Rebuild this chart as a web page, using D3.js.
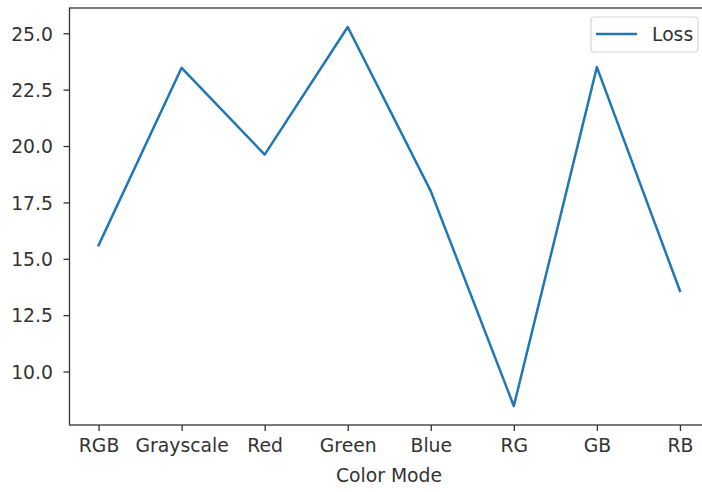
<!DOCTYPE html>
<html>
<head>
<meta charset="utf-8">
<script src="https://cdn.jsdelivr.net/npm/d3@7"></script>
<style>
  body { margin: 0; background: #fff; }
  svg { font-family: "DejaVu Sans", sans-serif; }
</style>
</head>
<body>
<svg id="chart" width="702" height="492"></svg>
<script>
var modes = ['RGB', 'Grayscale', 'Red', 'Green', 'Blue', 'RG', 'GB', 'RB'];
var loss = [15.6, 23.47, 19.62, 25.28, 18.0, 8.47, 23.5, 13.58];
var yTicks = [10.0, 12.5, 15.0, 17.5, 20.0, 22.5, 25.0];

var svg = d3.select('#chart');
var mLeft = 69.5, mRight = 709, mTop = 8, mBottom = 425;
var fontSize = 18.8;
var textColor = '#333';

// matplotlib style 5% margins
var yMin = d3.min(loss), yMax = d3.max(loss);
var pad = (yMax - yMin) * 0.05;

var x = d3.scalePoint().domain(modes).range([mLeft, mRight]).padding(0.35);
var y = d3.scaleLinear().domain([yMin - pad, yMax + pad]).range([mBottom, mTop]);

// y axis
var yAxis = d3.axisLeft(y).tickValues(yTicks).tickSize(6).tickPadding(10.5)
  .tickFormat(d3.format('.1f'));
var gy = svg.append('g').attr('transform', 'translate(' + mLeft + ',0)').call(yAxis);
gy.select('.domain').remove();
gy.selectAll('.tick line').attr('stroke', '#333').attr('stroke-width', 1.3);
gy.selectAll('.tick text').attr('font-size', fontSize).attr('fill', textColor)
  .attr('font-family', '"DejaVu Sans", sans-serif')
  .attr('dy', '0.36em');

// x axis
var xAxis = d3.axisBottom(x).tickSize(6).tickPadding(8);
var gx = svg.append('g').attr('transform', 'translate(0,' + mBottom + ')').call(xAxis);
gx.select('.domain').remove();
gx.selectAll('.tick line').attr('stroke', '#333').attr('stroke-width', 1.3);
gx.selectAll('.tick text').attr('font-size', fontSize).attr('fill', textColor)
  .attr('font-family', '"DejaVu Sans", sans-serif')
  .attr('dy', '0.71em');

// spines
svg.append('rect')
  .attr('x', mLeft).attr('y', mTop)
  .attr('width', mRight - mLeft).attr('height', mBottom - mTop)
  .attr('fill', 'none').attr('stroke', '#333').attr('stroke-width', 1.3);

// line
var line = d3.line()
  .x(function (d, i) { return x(modes[i]); })
  .y(function (d) { return y(d); });

svg.append('path')
  .datum(loss)
  .attr('d', line)
  .attr('fill', 'none')
  .attr('stroke', '#1f77b4')
  .attr('stroke-width', 2.5)
  .attr('stroke-linejoin', 'round')
  .attr('stroke-linecap', 'square');

// x label
svg.append('text')
  .attr('x', 389)
  .attr('y', 481.5)
  .attr('text-anchor', 'middle')
  .attr('font-size', fontSize)
  .attr('fill', textColor)
  .text('Color Mode');

// legend
var lg = svg.append('g');
lg.append('rect')
  .attr('x', 591).attr('y', 17).attr('width', 107).attr('height', 35)
  .attr('rx', 3.5)
  .attr('fill', 'white').attr('fill-opacity', 0.8)
  .attr('stroke', '#d6d6d6').attr('stroke-width', 1.2);
lg.append('line')
  .attr('x1', 596).attr('x2', 637).attr('y1', 34).attr('y2', 34)
  .attr('stroke', '#1f77b4').attr('stroke-width', 2.5);
lg.append('text')
  .attr('x', 652).attr('y', 41)
  .attr('font-size', fontSize)
  .attr('fill', textColor)
  .text('Loss');
</script>
</body>
</html>
